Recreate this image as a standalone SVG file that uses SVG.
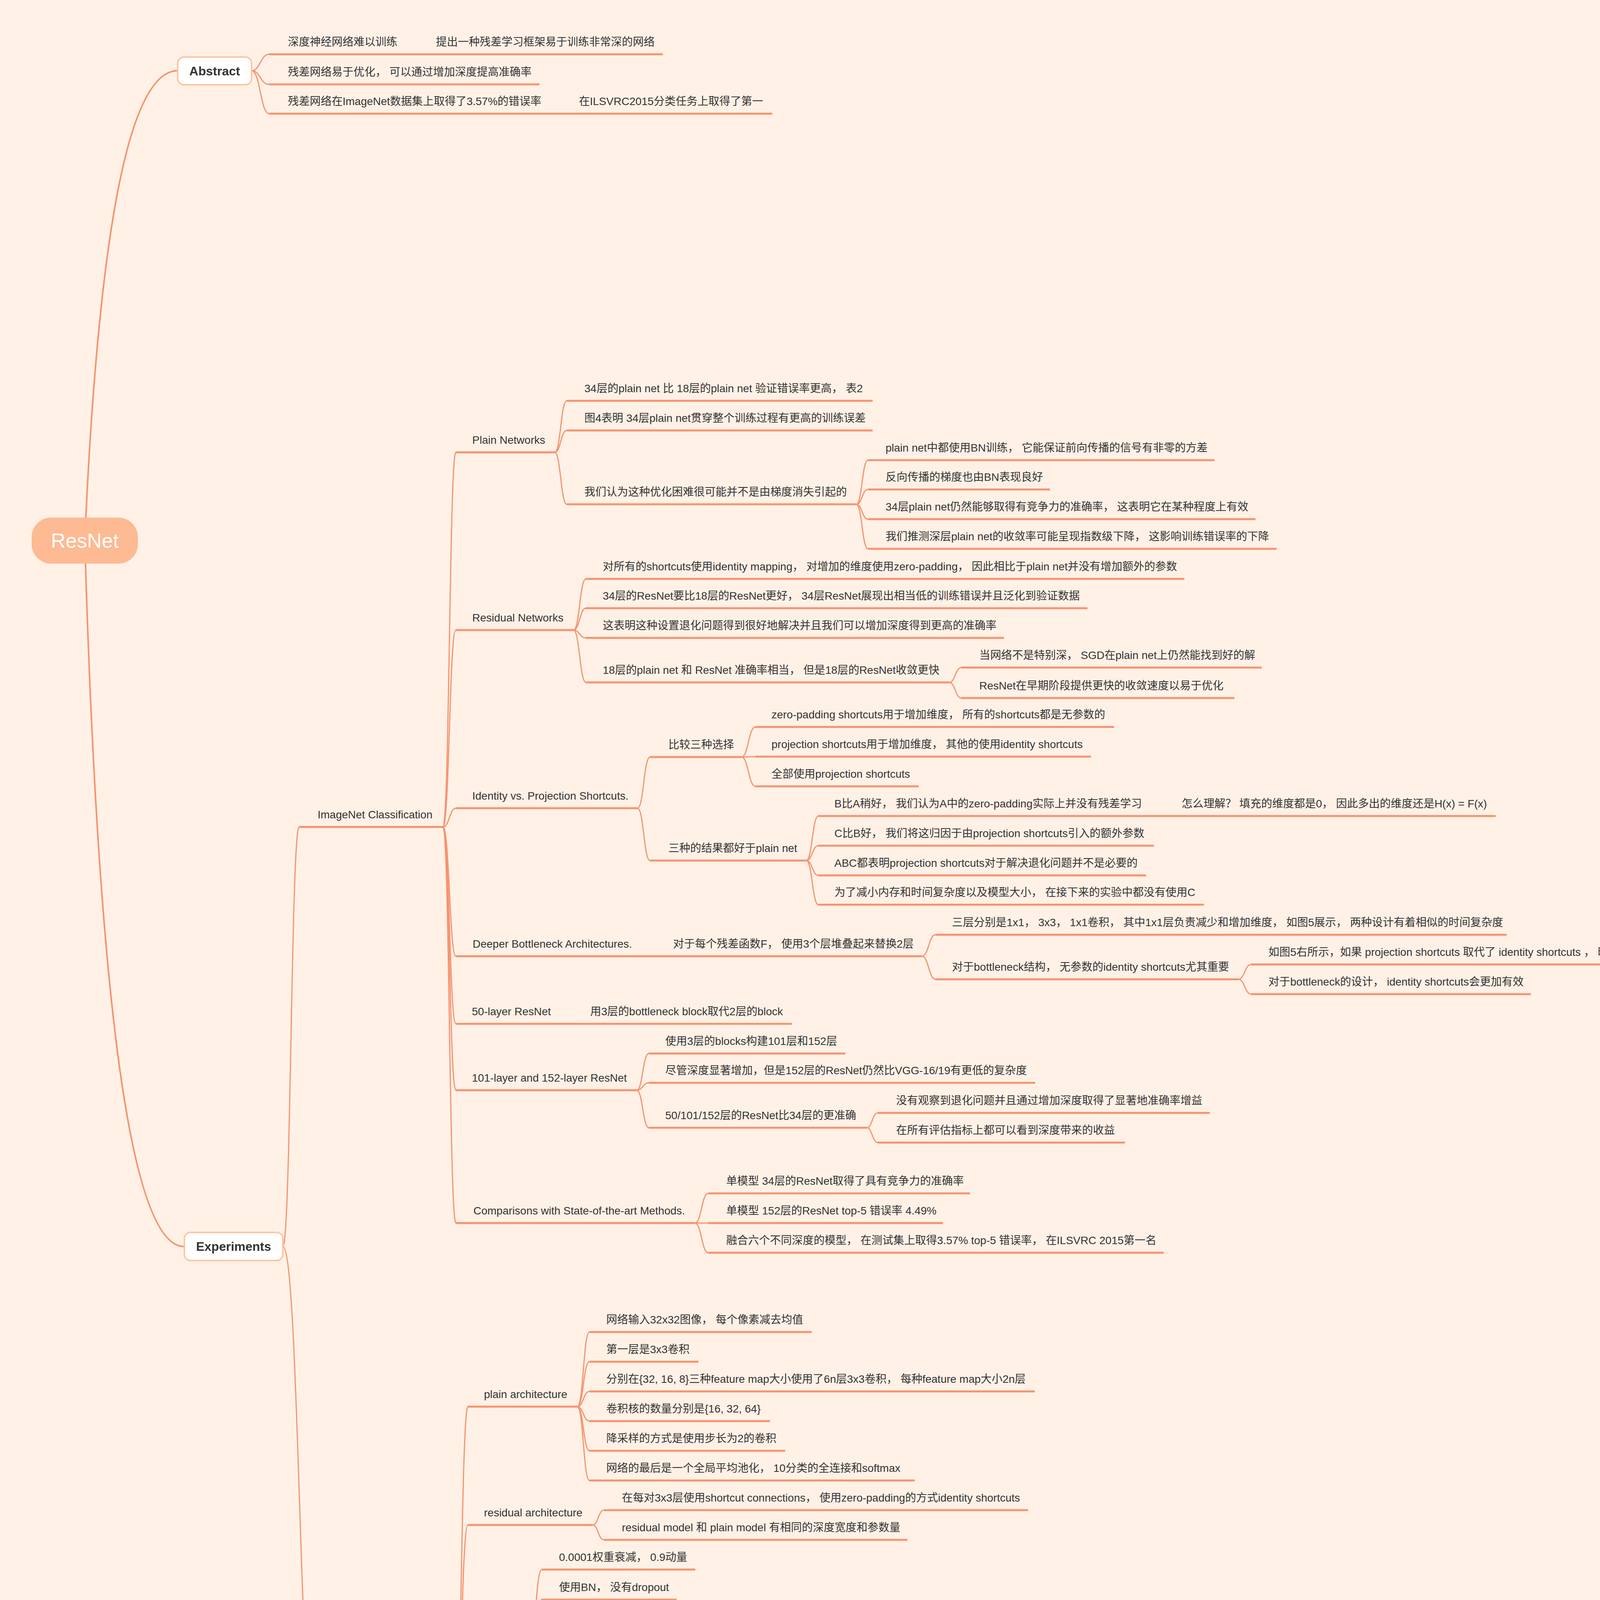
<svg xmlns="http://www.w3.org/2000/svg" width="4553" height="5771" viewBox="0 0 4553 5771">
<style>
.t{font-family:"Liberation Sans","Noto Sans CJK SC",sans-serif;font-size:28px;fill:#333333}
.b{font-family:"Liberation Sans","Noto Sans CJK SC",sans-serif;font-size:32px;font-weight:bold;fill:#333333;text-anchor:middle}
.u{stroke:#F7926F;stroke-width:5;fill:none}
.c{fill:none;stroke:#F7926F;stroke-width:3}
.c1{fill:none;stroke:#F7926F;stroke-width:4}
.box{fill:#FFFFFF;stroke:#FFC6A3;stroke-width:4}
</style>
<rect width="4553" height="5771" fill="#FFF1E6"/>
<g id="connectors">
<path class="c1" d="M217 1384 Q270 181 455 181"/>
<path class="c1" d="M217 1384 Q270 3191 471 3191"/>
<path class="c" d="M644 181 C666.5 181 666.5 139 689 139"/>
<path class="c" d="M644 181 C666.5 181 666.5 216 689 216"/>
<path class="c" d="M644 181 C666.5 181 666.5 291 689 291"/>
<path class="c" d="M724 3191 C745 3191 745 2117 766 2117"/>
<path class="c" d="M724 3191 C767 3191 767 4512 810 4512"/>
<path class="c" d="M1134 2117 C1150.5 2117 1150.5 1158 1167 1158"/>
<path class="c" d="M1134 2117 C1150.5 2117 1150.5 1613 1167 1613"/>
<path class="c" d="M1134 2117 C1150.5 2117 1150.5 2069 1167 2069"/>
<path class="c" d="M1134 2117 C1150.5 2117 1150.5 2448 1167 2448"/>
<path class="c" d="M1134 2117 C1150.5 2117 1150.5 2621 1167 2621"/>
<path class="c" d="M1134 2117 C1150.5 2117 1150.5 2791 1167 2791"/>
<path class="c" d="M1134 2117 C1150.5 2117 1150.5 3131 1167 3131"/>
<path class="c" d="M1420 1158 C1435.5 1158 1435.5 1026 1451 1026"/>
<path class="c" d="M1420 1158 C1435.5 1158 1435.5 1102 1451 1102"/>
<path class="c" d="M1420 1158 C1435.5 1158 1435.5 1291 1451 1291"/>
<path class="c" d="M2192 1291 C2207 1291 2207 1178 2222 1178"/>
<path class="c" d="M2192 1291 C2207 1291 2207 1253 2222 1253"/>
<path class="c" d="M2192 1291 C2207 1291 2207 1329 2222 1329"/>
<path class="c" d="M2192 1291 C2207 1291 2207 1405 2222 1405"/>
<path class="c" d="M1468 1613 C1484 1613 1484 1482 1500 1482"/>
<path class="c" d="M1468 1613 C1484 1613 1484 1557 1500 1557"/>
<path class="c" d="M1468 1613 C1484 1613 1484 1633 1500 1633"/>
<path class="c" d="M1468 1613 C1484 1613 1484 1747 1500 1747"/>
<path class="c" d="M2430 1747 C2445.5 1747 2445.5 1709 2461 1709"/>
<path class="c" d="M2430 1747 C2445.5 1747 2445.5 1787 2461 1787"/>
<path class="c" d="M1632 2069 C1648 2069 1648 1938 1664 1938"/>
<path class="c" d="M1632 2069 C1648 2069 1648 2203 1664 2203"/>
<path class="c" d="M1898 1938 C1916 1938 1916 1861 1934 1861"/>
<path class="c" d="M1898 1938 C1916 1938 1916 1937 1934 1937"/>
<path class="c" d="M1898 1938 C1916 1938 1916 2013 1934 2013"/>
<path class="c" d="M2064 2203 C2079.5 2203 2079.5 2089 2095 2089"/>
<path class="c" d="M2064 2203 C2079.5 2203 2079.5 2165 2095 2165"/>
<path class="c" d="M2064 2203 C2079.5 2203 2079.5 2241 2095 2241"/>
<path class="c" d="M2064 2203 C2079.5 2203 2079.5 2316 2095 2316"/>
<path class="c" d="M2360 2448 C2377.5 2448 2377.5 2393 2395 2393"/>
<path class="c" d="M2360 2448 C2377.5 2448 2377.5 2507 2395 2507"/>
<path class="c" d="M3170 2507 C3186.5 2507 3186.5 2469 3203 2469"/>
<path class="c" d="M3170 2507 C3186.5 2507 3186.5 2545 3203 2545"/>
<path class="c" d="M1630 2791 C1645.5 2791 1645.5 2697 1661 2697"/>
<path class="c" d="M1630 2791 C1645.5 2791 1645.5 2772 1661 2772"/>
<path class="c" d="M1630 2791 C1645.5 2791 1645.5 2887 1661 2887"/>
<path class="c" d="M2219 2887 C2233 2887 2233 2849 2247 2849"/>
<path class="c" d="M2219 2887 C2233 2887 2233 2925 2247 2925"/>
<path class="c" d="M1779 3131 C1796 3131 1796 3055 1813 3055"/>
<path class="c" d="M1779 3131 C1796 3131 1796 3131 1813 3131"/>
<path class="c" d="M1779 3131 C1796 3131 1796 3207 1813 3207"/>
<path class="c" d="M1163 4512 C1180.5 4512 1180.5 3601 1198 3601"/>
<path class="c" d="M1163 4512 C1180.5 4512 1180.5 3904 1198 3904"/>
<path class="c" d="M1163 4512 C1180.5 4512 1180.5 4209 1198 4209"/>
<path class="c" d="M1163 4512 C1180.5 4512 1180.5 4512 1198 4512"/>
<path class="c" d="M1163 4512 C1180.5 4512 1180.5 4664 1198 4664"/>
<path class="c" d="M1163 4512 C1180.5 4512 1180.5 4929 1198 4929"/>
<path class="c" d="M1163 4512 C1180.5 4512 1180.5 5423 1198 5423"/>
<path class="c" d="M1478 3601 C1493.5 3601 1493.5 3410 1509 3410"/>
<path class="c" d="M1478 3601 C1493.5 3601 1493.5 3486 1509 3486"/>
<path class="c" d="M1478 3601 C1493.5 3601 1493.5 3562 1509 3562"/>
<path class="c" d="M1478 3601 C1493.5 3601 1493.5 3638 1509 3638"/>
<path class="c" d="M1478 3601 C1493.5 3601 1493.5 3714 1509 3714"/>
<path class="c" d="M1478 3601 C1493.5 3601 1493.5 3790 1509 3790"/>
<path class="c" d="M1517 3904 C1531.5 3904 1531.5 3866 1546 3866"/>
<path class="c" d="M1517 3904 C1531.5 3904 1531.5 3942 1546 3942"/>
<path class="c" d="M1356 4209 C1371.5 4209 1371.5 4018 1387 4018"/>
<path class="c" d="M1356 4209 C1371.5 4209 1371.5 4095 1387 4095"/>
<path class="c" d="M1356 4209 C1371.5 4209 1371.5 4170 1387 4170"/>
<path class="c" d="M1356 4209 C1371.5 4209 1371.5 4246 1387 4246"/>
<path class="c" d="M1356 4209 C1371.5 4209 1371.5 4322 1387 4322"/>
<path class="c" d="M1356 4209 C1371.5 4209 1371.5 4397 1387 4397"/>
<path class="c" d="M1852 4512 C1865 4512 1865 4474 1878 4474"/>
<path class="c" d="M1852 4512 C1865 4512 1865 4550 1878 4550"/>
<path class="c" d="M1697 4664 C1711.5 4664 1711.5 4626 1726 4626"/>
<path class="c" d="M1697 4664 C1711.5 4664 1711.5 4702 1726 4702"/>
<path class="c" d="M1639 4929 C1655 4929 1655 4778 1671 4778"/>
<path class="c" d="M1639 4929 C1655 4929 1655 4854 1671 4854"/>
<path class="c" d="M1639 4929 C1655 4929 1655 4929 1671 4929"/>
<path class="c" d="M1639 4929 C1655 4929 1655 5005 1671 5005"/>
<path class="c" d="M1639 4929 C1655 4929 1655 5082 1671 5082"/>
<path class="c" d="M1609 5423 C1626 5423 1626 5158 1643 5158"/>
<path class="c" d="M1609 5423 C1626 5423 1626 5309 1643 5309"/>
<path class="c" d="M1609 5423 C1626 5423 1626 5462 1643 5462"/>
<path class="c" d="M1609 5423 C1626 5423 1626 5537 1643 5537"/>
<path class="c" d="M1609 5423 C1626 5423 1626 5613 1643 5613"/>
<path class="c" d="M1609 5423 C1626 5423 1626 5689 1643 5689"/>
<path class="c" d="M2116 5309 C2132.5 5309 2132.5 5234 2149 5234"/>
<path class="c" d="M2116 5309 C2132.5 5309 2132.5 5309 2149 5309"/>
<path class="c" d="M2116 5309 C2132.5 5309 2132.5 5385 2149 5385"/>
</g>
<g id="root"><rect x="81" y="1325" width="272" height="118" rx="50" fill="#FDBA93"/><text x="217" y="1402" text-anchor="middle" style="font-family:'Liberation Sans','Noto Sans CJK SC',sans-serif;font-size:52px;fill:#FFFFFF">ResNet</text></g>
<g id="abstract"><rect class="box" x="455" y="146" width="189" height="71" rx="16"/><text class="b" x="549.5" y="193">Abstract</text></g>
<g id="experiments"><rect class="box" x="472" y="3155" width="252" height="72" rx="16"/><text class="b" x="598" y="3202">Experiments</text></g>
<g id="a1"><path class="u" d="M689 139H1065"/><text class="t" x="737" y="117">深度神经网络难以训练</text></g>
<g id="a1c"><path class="u" d="M1065 139H1697"/><text class="t" x="1116" y="117">提出一种残差学习框架易于训练非常深的网络</text></g>
<g id="a2"><path class="u" d="M689 216H1381"/><text class="t" x="737" y="194">残差网络易于优化， 可以通过增加深度提高准确率</text></g>
<g id="a3"><path class="u" d="M689 291H1433"/><text class="t" x="737" y="269">残差网络在ImageNet数据集上取得了3.57%的错误率</text></g>
<g id="a3c"><path class="u" d="M1433 291H1977"/><text class="t" x="1482" y="269">在ILSVRC2015分类任务上取得了第一</text></g>
<g id="imagenet"><path class="u" d="M766 2117H1134"/><text class="t" x="813" y="2095">ImageNet Classification</text></g>
<g id="plain"><path class="u" d="M1167 1158H1420"/><text class="t" x="1209" y="1136">Plain Networks</text></g>
<g id="p1"><path class="u" d="M1451 1026H2234"/><text class="t" x="1496" y="1004">34层的plain net 比 18层的plain net 验证错误率更高， 表2</text></g>
<g id="p2"><path class="u" d="M1451 1102H2234"/><text class="t" x="1496" y="1080">图4表明 34层plain net贯穿整个训练过程有更高的训练误差</text></g>
<g id="p3"><path class="u" d="M1451 1291H2192"/><text class="t" x="1496" y="1269">我们认为这种优化困难很可能并不是由梯度消失引起的</text></g>
<g id="p3a"><path class="u" d="M2222 1178H3109"/><text class="t" x="2267" y="1156">plain net中都使用BN训练， 它能保证前向传播的信号有非零的方差</text></g>
<g id="p3b"><path class="u" d="M2222 1253H2688"/><text class="t" x="2267" y="1231">反向传播的梯度也由BN表现良好</text></g>
<g id="p3c"><path class="u" d="M2222 1329H3214"/><text class="t" x="2267" y="1307">34层plain net仍然能够取得有竞争力的准确率， 这表明它在某种程度上有效</text></g>
<g id="p3d"><path class="u" d="M2222 1405H3268"/><text class="t" x="2267" y="1383">我们推测深层plain net的收敛率可能呈现指数级下降， 这影响训练错误率的下降</text></g>
<g id="residual"><path class="u" d="M1167 1613H1468"/><text class="t" x="1209" y="1591">Residual Networks</text></g>
<g id="r1"><path class="u" d="M1500 1482H3032"/><text class="t" x="1543" y="1460">对所有的shortcuts使用identity mapping， 对增加的维度使用zero-padding， 因此相比于plain net并没有增加额外的参数</text></g>
<g id="r2"><path class="u" d="M1500 1557H2784"/><text class="t" x="1543" y="1535">34层的ResNet要比18层的ResNet更好， 34层ResNet展现出相当低的训练错误并且泛化到验证数据</text></g>
<g id="r3"><path class="u" d="M1500 1633H2570"/><text class="t" x="1543" y="1611">这表明这种设置退化问题得到很好地解决并且我们可以增加深度得到更高的准确率</text></g>
<g id="r4"><path class="u" d="M1500 1747H2430"/><text class="t" x="1543" y="1725">18层的plain net 和 ResNet 准确率相当， 但是18层的ResNet收敛更快</text></g>
<g id="r4a"><path class="u" d="M2461 1709H3230"/><text class="t" x="2507" y="1687">当网络不是特别深， SGD在plain net上仍然能找到好的解</text></g>
<g id="r4b"><path class="u" d="M2461 1787H3160"/><text class="t" x="2507" y="1765">ResNet在早期阶段提供更快的收敛速度以易于优化</text></g>
<g id="identity"><path class="u" d="M1167 2069H1632"/><text class="t" x="1209" y="2047">Identity vs. Projection Shortcuts.</text></g>
<g id="i1"><path class="u" d="M1664 1938H1898"/><text class="t" x="1711" y="1916">比较三种选择</text></g>
<g id="i1a"><path class="u" d="M1934 1861H2852"/><text class="t" x="1975" y="1839">zero-padding shortcuts用于增加维度， 所有的shortcuts都是无参数的</text></g>
<g id="i1b"><path class="u" d="M1934 1937H2793"/><text class="t" x="1975" y="1915">projection shortcuts用于增加维度， 其他的使用identity shortcuts</text></g>
<g id="i1c"><path class="u" d="M1934 2013H2352"/><text class="t" x="1975" y="1991">全部使用projection shortcuts</text></g>
<g id="i2"><path class="u" d="M1664 2203H2064"/><text class="t" x="1711" y="2181">三种的结果都好于plain net</text></g>
<g id="i2a"><path class="u" d="M2095 2089H2975"/><text class="t" x="2136" y="2067">B比A稍好， 我们认为A中的zero-padding实际上并没有残差学习</text></g>
<g id="i2ac"><path class="u" d="M2975 2089H3829"/><text class="t" x="3025" y="2067">怎么理解？ 填充的维度都是0， 因此多出的维度还是H(x) = F(x)</text></g>
<g id="i2b"><path class="u" d="M2095 2165H2954"/><text class="t" x="2136" y="2143">C比B好， 我们将这归因于由projection shortcuts引入的额外参数</text></g>
<g id="i2c"><path class="u" d="M2095 2241H2934"/><text class="t" x="2136" y="2219">ABC都表明projection shortcuts对于解决退化问题并不是必要的</text></g>
<g id="i2d"><path class="u" d="M2095 2316H3082"/><text class="t" x="2136" y="2294">为了减小内存和时间复杂度以及模型大小， 在接下来的实验中都没有使用C</text></g>
<g id="deeper"><path class="u" d="M1167 2448H1670"/><text class="t" x="1210" y="2426">Deeper Bottleneck Architectures.</text></g>
<g id="deeperc"><path class="u" d="M1670 2448H2360"/><text class="t" x="1723" y="2426">对于每个残差函数F， 使用3个层堆叠起来替换2层</text></g>
<g id="d1"><path class="u" d="M2395 2393H3857"/><text class="t" x="2437" y="2371">三层分别是1x1， 3x3， 1x1卷积， 其中1x1层负责减少和增加维度， 如图5展示， 两种设计有着相似的时间复杂度</text></g>
<g id="d2"><path class="u" d="M2395 2507H3170"/><text class="t" x="2437" y="2485">对于bottleneck结构， 无参数的identity shortcuts尤其重要</text></g>
<g id="d2a"><path class="u" d="M3203 2469H4469"/><text class="t" x="3247" y="2447">如图5右所示，如果 projection shortcuts 取代了 identity shortcuts ， 时间复杂度和模型大小会翻倍</text></g>
<g id="d2b"><path class="u" d="M3203 2545H3919"/><text class="t" x="3247" y="2523">对于bottleneck的设计， identity shortcuts会更加有效</text></g>
<g id="l50"><path class="u" d="M1167 2621H1460"/><text class="t" x="1208" y="2599">50-layer ResNet</text></g>
<g id="l50c"><path class="u" d="M1460 2621H2027"/><text class="t" x="1511" y="2599">用3层的bottleneck block取代2层的block</text></g>
<g id="l101"><path class="u" d="M1167 2791H1630"/><text class="t" x="1208" y="2769">101-layer and 152-layer ResNet</text></g>
<g id="e1"><path class="u" d="M1661 2697H2164"/><text class="t" x="1703" y="2675">使用3层的blocks构建101层和152层</text></g>
<g id="e2"><path class="u" d="M1661 2772H2650"/><text class="t" x="1703" y="2750">尽管深度显著增加，但是152层的ResNet仍然比VGG-16/19有更低的复杂度</text></g>
<g id="e3"><path class="u" d="M1661 2887H2219"/><text class="t" x="1703" y="2865">50/101/152层的ResNet比34层的更准确</text></g>
<g id="e3a"><path class="u" d="M2247 2849H3097"/><text class="t" x="2294" y="2827">没有观察到退化问题并且通过增加深度取得了显著地准确率增益</text></g>
<g id="e3b"><path class="u" d="M2247 2925H2880"/><text class="t" x="2294" y="2903">在所有评估指标上都可以看到深度带来的收益</text></g>
<g id="comp"><path class="u" d="M1167 3131H1779"/><text class="t" x="1212" y="3109">Comparisons with State-of-the-art Methods.</text></g>
<g id="c1"><path class="u" d="M1813 3055H2483"/><text class="t" x="1859" y="3033">单模型 34层的ResNet取得了具有竞争力的准确率</text></g>
<g id="c2"><path class="u" d="M1813 3131H2414"/><text class="t" x="1859" y="3109">单模型 152层的ResNet top-5 错误率 4.49%</text></g>
<g id="c3"><path class="u" d="M1813 3207H2979"/><text class="t" x="1859" y="3185">融合六个不同深度的模型， 在测试集上取得3.57% top-5 错误率， 在ILSVRC 2015第一名</text></g>
<g id="cifar"><path class="u" d="M810 4512H1163"/><text class="t" x="850" y="4490">CIFAR-10 and Analysis</text></g>
<g id="pa"><path class="u" d="M1198 3601H1478"/><text class="t" x="1239" y="3579">plain architecture</text></g>
<g id="pa1"><path class="u" d="M1509 3410H2078"/><text class="t" x="1552" y="3388">网络输入32x32图像， 每个像素减去均值</text></g>
<g id="pa2"><path class="u" d="M1509 3486H1788"/><text class="t" x="1552" y="3464">第一层是3x3卷积</text></g>
<g id="pa3"><path class="u" d="M1509 3562H2649"/><text class="t" x="1552" y="3540">分别在{32, 16, 8}三种feature map大小使用了6n层3x3卷积， 每种feature map大小2n层</text></g>
<g id="pa4"><path class="u" d="M1509 3638H1971"/><text class="t" x="1552" y="3616">卷积核的数量分别是{16, 32, 64}</text></g>
<g id="pa5"><path class="u" d="M1509 3714H2010"/><text class="t" x="1552" y="3692">降采样的方式是使用步长为2的卷积</text></g>
<g id="pa6"><path class="u" d="M1509 3790H2342"/><text class="t" x="1552" y="3768">网络的最后是一个全局平均池化， 10分类的全连接和softmax</text></g>
<g id="ra"><path class="u" d="M1198 3904H1517"/><text class="t" x="1239" y="3882">residual architecture</text></g>
<g id="ra1"><path class="u" d="M1546 3866H2632"/><text class="t" x="1592" y="3844">在每对3x3层使用shortcut connections， 使用zero-padding的方式identity shortcuts</text></g>
<g id="ra2"><path class="u" d="M1546 3942H2323"/><text class="t" x="1592" y="3920">residual model 和 plain model 有相同的深度宽度和参数量</text></g>
<g id="tr"><path class="u" d="M1198 4209H1356"/><text class="t" x="1239" y="4187">training</text></g>
<g id="t1"><path class="u" d="M1387 4018H1780"/><text class="t" x="1431" y="3996">0.0001权重衰减， 0.9动量</text></g>
<g id="t2"><path class="u" d="M1387 4095H1732"/><text class="t" x="1431" y="4073">使用BN， 没有dropout</text></g>
<g id="t3"><path class="u" d="M1387 4170H1790"/><text class="t" x="1431" y="4148">双GPU 128 mini-batch size</text></g>
<g id="t4"><path class="u" d="M1387 4246H2276"/><text class="t" x="1431" y="4224">初始学习率0.1， 在32K和48K迭代时除以10， 64K迭代时停止训练</text></g>
<g id="t5"><path class="u" d="M1387 4322H1593"/><text class="t" x="1431" y="4300">数据增强</text></g>
<g id="t5c"><path class="u" d="M1593 4322H2435"/><text class="t" x="1643" y="4300">在每个边填充4个像素， 对它或者它的水平翻转随机裁剪32x32</text></g>
<g id="t6"><path class="u" d="M1387 4397H1816"/><text class="t" x="1431" y="4375">测试时， 使用原始32x32图像</text></g>
<g id="ln"><path class="u" d="M1198 4512H1852"/><text class="t" x="1241" y="4490">令n={3, 5, 7, 9}， 使得网络20， 32， 44和56层</text></g>
<g id="ln1"><path class="u" d="M1878 4474H2701"/><text class="t" x="1926" y="4452">图6左表明， 随着深度增加， plain net表现出更高的训练误差</text></g>
<g id="ln2"><path class="u" d="M1878 4550H2975"/><text class="t" x="1926" y="4528">图6中表明， 当深度增加时， ResNet克服了优化的困难， 并且展现出准确率的增益</text></g>
<g id="n18"><path class="u" d="M1198 4664H1697"/><text class="t" x="1241" y="4642">当n=18时， 网络为110层的ResNet</text></g>
<g id="n18a"><path class="u" d="M1726 4626H3385"/><text class="t" x="1775" y="4604">初始学习率0.1对于开始收敛有点大， 因此使用0.01预热直到训练误差降到80%（大约400迭代）， 然后回到0.1学习率继续训练。</text></g>
<g id="n18b"><path class="u" d="M1726 4702H2255"/><text class="t" x="1775" y="4680">它的参数更少，却比SOTA错误率更低</text></g>
<g id="an"><path class="u" d="M1198 4929H1639"/><text class="t" x="1239" y="4907">Analysis of Layer Responses.</text></g>
<g id="an1"><path class="u" d="M1671 4778H2229"/><text class="t" x="1715" y="4756">response是BN之后ReLU/addtion之前的</text></g>
<g id="an2"><path class="u" d="M1671 4854H2260"/><text class="t" x="1715" y="4832">ResNet比plain net通常有更小的responses</text></g>
<g id="an3"><path class="u" d="M1671 4929H2396"/><text class="t" x="1715" y="4907">这些结果支持了残差函数比非残差函数通常更接近0</text></g>
<g id="an3c"><path class="u" d="M2396 4929H2747"/><text class="t" x="2446" y="4907">说明很多层都是没用的</text></g>
<g id="an4"><path class="u" d="M1671 5005H2515"/><text class="t" x="1715" y="4983">在对比ResNet20， 56和110中， 更深的ResNet的response更小</text></g>
<g id="an5"><path class="u" d="M1671 5082H2369"/><text class="t" x="1715" y="5060">当有更多层时， ResNet的层倾向于更小地改变信号</text></g>
<g id="ex"><path class="u" d="M1198 5423H1609"/><text class="t" x="1238" y="5401">Exploring Over 1000 layers.</text></g>
<g id="x1"><path class="u" d="M1643 5158H2299"/><text class="t" x="1685" y="5136">我们探索了一个超过1000层的更激进的深度模型</text></g>
<g id="x2"><path class="u" d="M1643 5309H2116"/><text class="t" x="1685" y="5287">设置n=200, 网络为1202层的网络</text></g>
<g id="x2a"><path class="u" d="M2149 5234H2408"/><text class="t" x="2192" y="5212">并没有优化困难</text></g>
<g id="x2b"><path class="u" d="M2149 5309H2760"/><text class="t" x="2192" y="5287">1000层的网络能够取得小于0.1%的训练误差</text></g>
<g id="x2c"><path class="u" d="M2149 5385H2554"/><text class="t" x="2192" y="5363">测试误差也相当好， 7.93%</text></g>
<g id="x3"><path class="u" d="M1643 5462H2575"/><text class="t" x="1685" y="5440">但是1202层的网络比110层的网络表现更差， 我们认为这是由于过拟合</text></g>
<g id="x4"><path class="u" d="M1643 5537H2271"/><text class="t" x="1685" y="5515">1202网络对于小的数据集可能不必要地太大了</text></g>
<g id="x5"><path class="u" d="M1643 5613H2620"/><text class="t" x="1685" y="5591">在这个数据及上使用强大的正则化比如maxout和dropout取得最好的结果。</text></g>
<g id="x6"><path class="u" d="M1643 5689H2691"/><text class="t" x="1685" y="5667">我们没有使用maxout/dropout， 而仅仅通过增加深度和更窄的结构施加正则化。</text></g>
</svg>
